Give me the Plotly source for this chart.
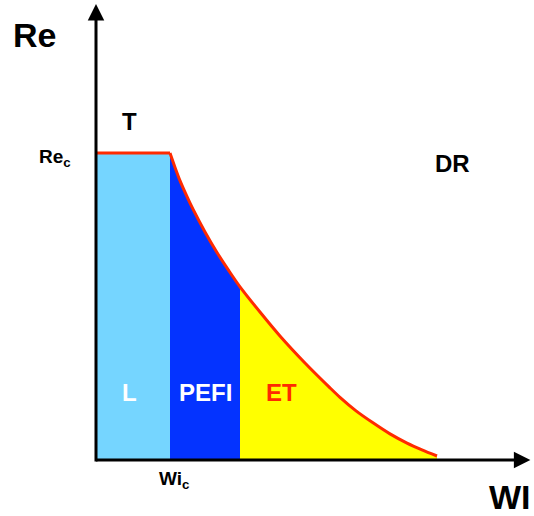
import plotly.graph_objects as go

# Data (Wi in units of Wi_c, Re in units of Re_c)
wi_c = 1.0
re_c = 1.0
wi_pefi_et = 1.946
curve_wi = [1.0, 1.068, 1.135, 1.230, 1.311, 1.473, 1.635, 1.797, 1.946, 2.216,
            2.486, 2.824, 3.162, 3.297, 3.514, 3.743, 3.973, 4.203, 4.405, 4.608]
curve_re = [1.0, 0.953, 0.910, 0.858, 0.817, 0.743, 0.676, 0.616, 0.564, 0.482,
            0.404, 0.316, 0.235, 0.204, 0.160, 0.121, 0.085, 0.055, 0.033, 0.013]
region_labels = ["L", "PEFI", "ET"]

LIGHT = "#75D5FF"
BLUE = "#0433FF"
YELLOW = "#FFFF00"
RED = "#FF2A00"
FONT = "Liberation Sans"

fig = go.Figure()

# L region
fig.add_trace(go.Scatter(x=[0, wi_c, wi_c, 0, 0], y=[0, 0, re_c, re_c, 0],
                         fill="toself", fillcolor=LIGHT, line=dict(width=0),
                         mode="lines", hoverinfo="skip", showlegend=False))
# PEFI region
bx = [x for x in curve_wi if x <= wi_pefi_et]
by = curve_re[:len(bx)]
fig.add_trace(go.Scatter(x=bx + [wi_pefi_et, wi_c], y=by + [0, 0],
                         fill="toself", fillcolor=BLUE, line=dict(width=0),
                         mode="lines", hoverinfo="skip", showlegend=False))
# ET region
ex = [x for x in curve_wi if x >= wi_pefi_et]
ey = curve_re[len(curve_wi) - len(ex):]
fig.add_trace(go.Scatter(x=ex + [ex[-1], wi_pefi_et], y=ey + [0, 0],
                         fill="toself", fillcolor=YELLOW, line=dict(width=0),
                         mode="lines", hoverinfo="skip", showlegend=False))
# Red boundary: flat part and curve
fig.add_trace(go.Scatter(x=[0, wi_c], y=[re_c, re_c], mode="lines",
                         line=dict(color=RED, width=3),
                         hoverinfo="skip", showlegend=False))
fig.add_trace(go.Scatter(x=curve_wi, y=curve_re, mode="lines",
                         line=dict(color=RED, width=3, shape="spline", smoothing=0.8),
                         hoverinfo="skip", showlegend=False))

x0, x1 = -96 / 74, (534 - 96) / 74
y0, y1 = -56 / 307, 460 / 307

# Axes with arrows
fig.add_annotation(x=5.87, y=0, ax=-0.02, ay=0, xref="x", yref="y", axref="x", ayref="y",
                   showarrow=True, arrowhead=2, arrowsize=1.1, arrowwidth=3, arrowcolor="black", text="")
fig.add_annotation(x=0, y=1.485, ax=0, ay=-0.01, xref="x", yref="y", axref="x", ayref="y",
                   showarrow=True, arrowhead=2, arrowsize=1.1, arrowwidth=3, arrowcolor="black", text="")

def lab(x, y, t, size, color="black"):
    fig.add_annotation(x=x, y=y, xref="x", yref="y", text="<b>" + t + "</b>", showarrow=False,
                       font=dict(family=FONT, size=size, color=color), xanchor="center", yanchor="middle")

lab(-0.83, 1.384, "Re", 34)
lab(5.60, -0.12, "WI", 34)
lab(-0.56, 0.985, "Re<sub>c</sub>", 19)
lab(1.06, -0.066, "Wi<sub>c</sub>", 19)
lab(0.459, 1.104, "T", 24)
lab(4.811, 0.967, "DR", 24)
lab(0.459, 0.221, region_labels[0], 24, "white")
lab(1.486, 0.221, region_labels[1], 24, "white")
lab(2.5, 0.221, region_labels[2], 24, RED)

fig.update_xaxes(range=[x0, x1], visible=False, fixedrange=True)
fig.update_yaxes(range=[y0, y1], visible=False, fixedrange=True)
fig.update_layout(width=534, height=516, margin=dict(l=0, r=0, t=0, b=0),
                  plot_bgcolor="white", paper_bgcolor="white")
fig.write_html("out.html", config={"displayModeBar": False},
               post_script="document.body.style.margin='0';document.body.style.overflow='hidden';")
